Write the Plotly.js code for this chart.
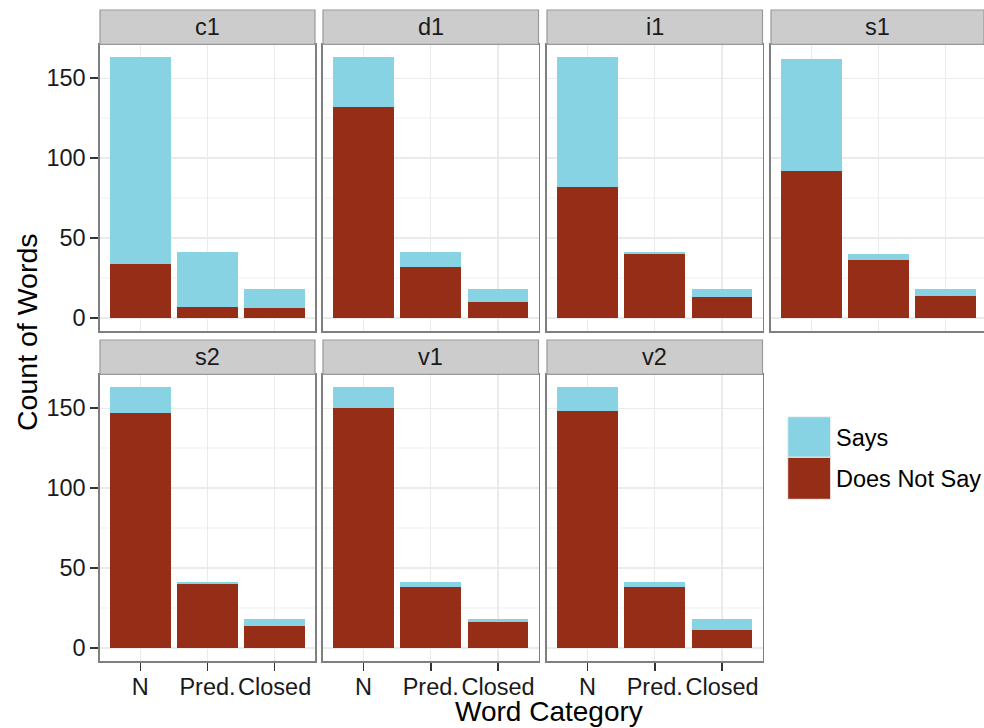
<!DOCTYPE html>
<html><head><meta charset="utf-8">
<script src="https://cdn.plot.ly/plotly-3.0.1.min.js"></script>
<style>html,body{margin:0;padding:0;background:#fff}</style>
</head><body><div id="chart" style="width:984px;height:728px"></div>
<script>
// ---- data ----
const categories = ['N', 'Pred.', 'Closed'];
const panels = ['c1', 'd1', 'i1', 's1', 's2', 'v1', 'v2'];
const seriesNames = ['Says', 'Does Not Say'];
const yTicks = [0, 50, 100, 150];

const doesNotSayC1 = [34, 7, 6];
const saysC1 = [129, 34, 12];
const doesNotSayD1 = [132, 32, 10];
const saysD1 = [31, 9, 8];
const doesNotSayI1 = [82, 40, 13];
const saysI1 = [81, 1, 5];
const doesNotSayS1 = [92, 36, 14];
const saysS1 = [70, 4, 4];
const doesNotSayS2 = [147, 40, 14];
const saysS2 = [16, 1, 4];
const doesNotSayV1 = [150, 38, 16];
const saysV1 = [13, 3, 2];
const doesNotSayV2 = [148, 38, 11];
const saysV2 = [15, 3, 7];

const dnsByPanel = [doesNotSayC1, doesNotSayD1, doesNotSayI1, doesNotSayS1, doesNotSayS2, doesNotSayV1, doesNotSayV2];
const saysByPanel = [saysC1, saysD1, saysI1, saysS1, saysS2, saysV1, saysV2];

// ---- styling / layout ----
const W = 984, H = 728;
const colorSays = '#87D3E3';
const colorDNS = '#962D17';
const FONT = 'Liberation Sans, Arial, Helvetica, sans-serif';
const TICK_SIZE = 23.5;
const colX = [[100, 315], [323, 538.5], [547, 762.5], [771, 984]];
const rowY = [[44.3, 331], [374.3, 661]];
const stripTop = [10, 340];
const px = v => v / W;
const py = v => 1 - v / H;

const traces = [];
const layout = {
  width: W, height: H, autosize: false,
  margin: {l: 0, r: 0, t: 0, b: 0},
  paper_bgcolor: '#ffffff', plot_bgcolor: '#ffffff',
  barmode: 'stack', bargap: 0.1,
  showlegend: false, hovermode: false,
  font: {family: FONT, size: TICK_SIZE, color: '#1a1a1a'},
  shapes: [], annotations: []
};

panels.forEach((name, i) => {
  const col = i % 4, row = Math.floor(i / 4);
  const sfx = i === 0 ? '' : String(i + 1);
  const xa = 'x' + sfx, ya = 'y' + sfx;
  traces.push({type: 'bar', x: categories, y: dnsByPanel[i], name: seriesNames[1],
    xaxis: xa, yaxis: ya, marker: {color: colorDNS, line: {width: 0}}});
  traces.push({type: 'bar', x: categories, y: saysByPanel[i], name: seriesNames[0],
    xaxis: xa, yaxis: ya, marker: {color: colorSays, line: {width: 0}}});

  const bottomRow = (i >= 4);
  const leftCol = (col === 0);
  const xr = col === 3 ? [-0.6, 2.57] : [-0.6, 2.6];
  layout['xaxis' + sfx] = {
    domain: [px(colX[col][0]), px(colX[col][1])],
    anchor: ya, type: 'category', range: xr,
    showgrid: true, gridcolor: '#EBEBEB', gridwidth: 1.2,
    showline: true, mirror: true, linecolor: '#7F7F7F', linewidth: 1.6,
    ticks: bottomRow ? 'outside' : '', ticklen: 8, tickwidth: 1.6, tickcolor: '#333333',
    ticklabelstandoff: -4,
    showticklabels: bottomRow, tickfont: {family: FONT, size: TICK_SIZE, color: '#1a1a1a'},
    zeroline: false, fixedrange: true
  };
  layout['yaxis' + sfx] = {
    domain: [py(rowY[row][1]), py(rowY[row][0])],
    anchor: xa, range: [-8.15, 171.15],
    tickvals: yTicks, ticktext: yTicks.map(String),
    showgrid: true, gridcolor: '#EBEBEB', gridwidth: 1.2,
    minor: {dtick: 25, tick0: 0, showgrid: true, gridcolor: '#F7F7F7', gridwidth: 1.2, ticks: ''},
    showline: true, mirror: true, linecolor: '#7F7F7F', linewidth: 1.6,
    ticks: leftCol ? 'outside' : '', ticklen: 8, tickwidth: 1.6, tickcolor: '#333333',
    showticklabels: leftCol, tickfont: {family: FONT, size: TICK_SIZE, color: '#1a1a1a'},
    zeroline: false, fixedrange: true
  };
  // strip
  layout.shapes.push({type: 'rect', xref: 'paper', yref: 'paper',
    x0: px(colX[col][0]), x1: px(colX[col][1]),
    y0: py(rowY[row][0]), y1: py(stripTop[row]),
    fillcolor: '#CCCCCC', line: {color: '#999999', width: 1.2}});
  layout.annotations.push({xref: 'paper', yref: 'paper',
    x: px((colX[col][0] + colX[col][1]) / 2), y: py((stripTop[row] + rowY[row][0]) / 2),
    xanchor: 'center', yanchor: 'middle', showarrow: false,
    text: name, font: {family: FONT, size: TICK_SIZE, color: '#1a1a1a'}});
});

// axis titles
layout.annotations.push({xref: 'paper', yref: 'paper', x: px(27), y: py(333),
  xanchor: 'center', yanchor: 'middle', showarrow: false, textangle: -90,
  text: 'Count of Words', font: {family: FONT, size: 28.5, color: '#000000'}});
layout.annotations.push({xref: 'paper', yref: 'paper', x: px(549), y: 0,
  xanchor: 'center', yanchor: 'bottom', showarrow: false, borderpad: 0,
  text: 'Word Category', font: {family: FONT, size: 28, color: '#000000'}});

// legend (drawn)
const legendKeys = [[seriesNames[0], colorSays, 416.7, 457.3], [seriesNames[1], colorDNS, 457.3, 499.3]];
legendKeys.forEach(k => {
  layout.shapes.push({type: 'rect', xref: 'paper', yref: 'paper',
    x0: px(787.7), x1: px(830.7), y0: py(k[3]), y1: py(k[2]),
    fillcolor: k[1], line: {color: '#F2F2F2', width: 1}});
  layout.annotations.push({xref: 'paper', yref: 'paper', x: px(834), y: py((k[2] + k[3]) / 2 + 1),
    xanchor: 'left', yanchor: 'middle', showarrow: false,
    text: k[0], font: {family: FONT, size: 23.5, color: '#000000'}});
});

Plotly.newPlot('chart', traces, layout, {staticPlot: true, displayModeBar: false});
</script></body></html>
